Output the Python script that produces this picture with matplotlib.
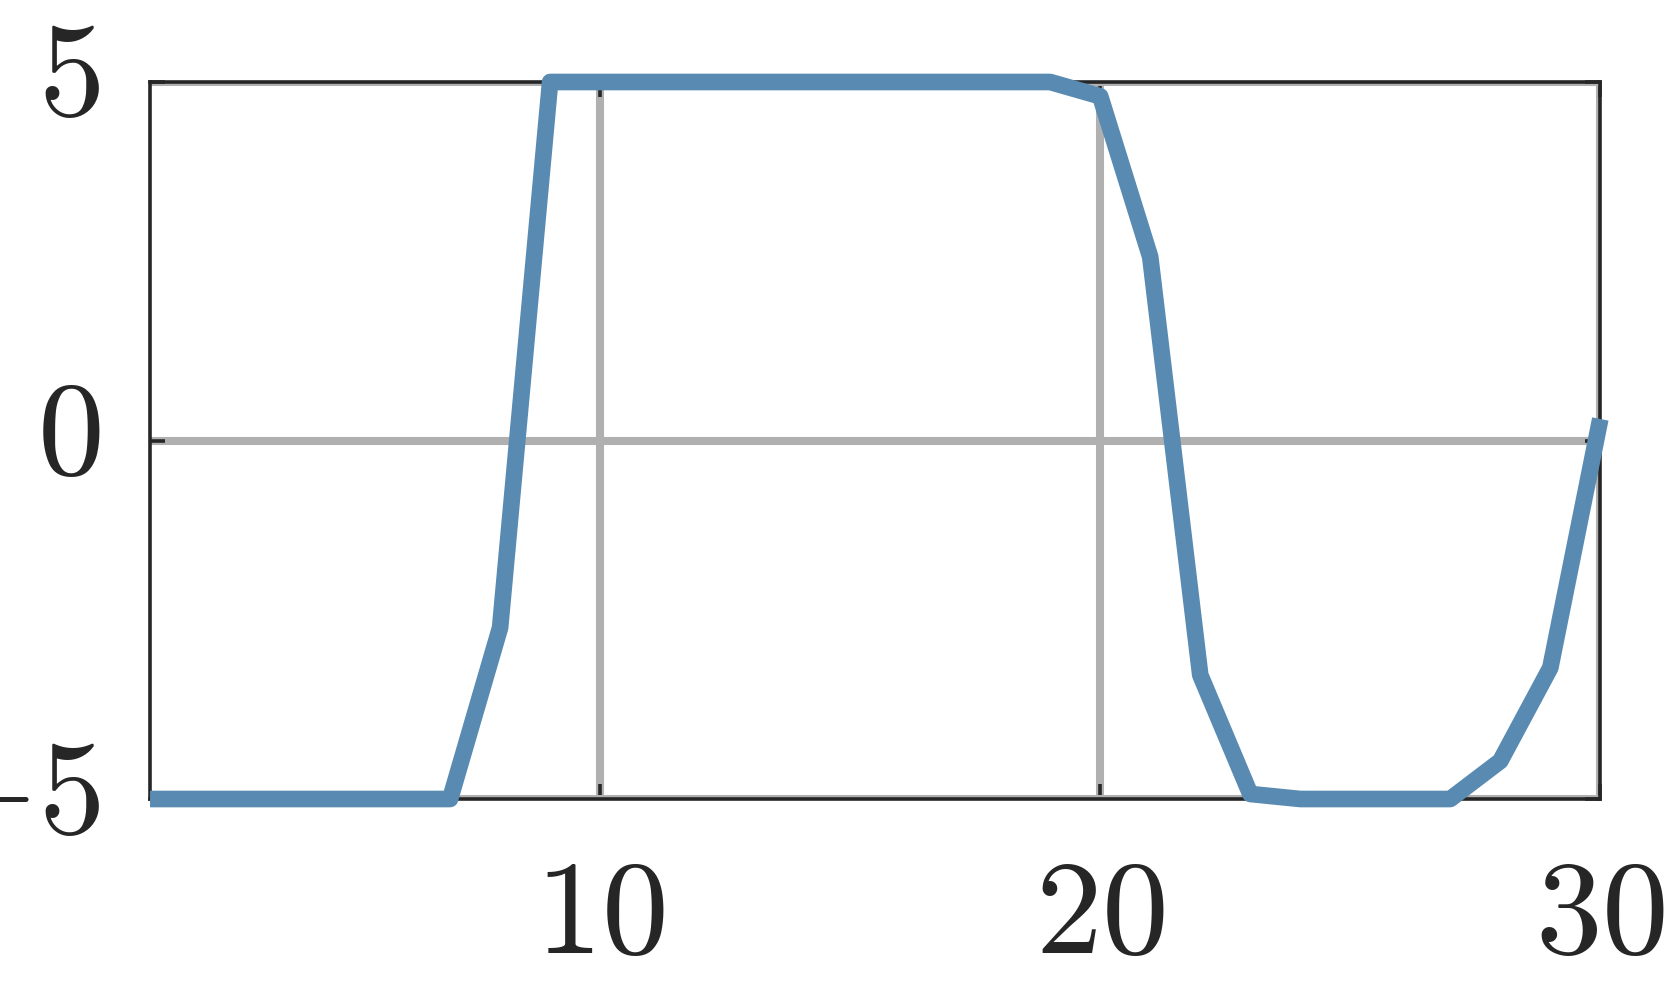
import matplotlib
matplotlib.use("Agg")
import matplotlib.pyplot as plt
import matplotlib.transforms as mtransforms

x_values = list(range(1, 31))
y_values = [-5, -5, -5, -5, -5, -5, -5, -2.61, 5, 5,
            5, 5, 5, 5, 5, 5, 5, 5, 5, 4.8,
            2.56, -3.27, -4.93, -5.0, -5.0, -5.0, -5.0, -4.47, -3.17, 0.30]
x_ticks = [10, 20, 30]
x_ticklabels = ["$10$", "$20$", "$30$"]
y_ticks = [-5, 0, 5]
y_ticklabels = ["$-5$", "$0$", "$5$"]

plt.rcParams["mathtext.fontset"] = "cm"
plt.rcParams["font.family"] = ["DejaVu Serif"]

fig = plt.figure(figsize=(16.67, 10), dpi=100)
ax = fig.add_axes([0.090, 0.201, 0.870, 0.717])

ax.plot(x_values, y_values, color="#588ab2", lw=12, solid_capstyle="butt",
        solid_joinstyle="round", clip_on=False, zorder=3)

ax.set_xlim(1, 30)
ax.set_ylim(-5, 5)
ax.set_xticks(x_ticks)
ax.set_xticklabels(x_ticklabels)
ax.set_yticks(y_ticks)
ax.set_yticklabels(y_ticklabels)

ax.grid(True, color="#b0b0b0", lw=5.8)
for s in ax.spines.values():
    s.set_color("#262626")
    s.set_linewidth(2.6)
ax.tick_params(direction="in", length=11, width=2.6, color="#262626",
               labelcolor="#262626", labelsize=96, top=True, right=True)
ax.tick_params(axis="x", pad=38)
ax.tick_params(axis="y", pad=36)
shift = mtransforms.ScaledTranslation(0, 0.17, fig.dpi_scale_trans)
for lab in ax.get_yticklabels():
    lab.set_transform(lab.get_transform() + shift)

fig.savefig("out.png", dpi=100)
